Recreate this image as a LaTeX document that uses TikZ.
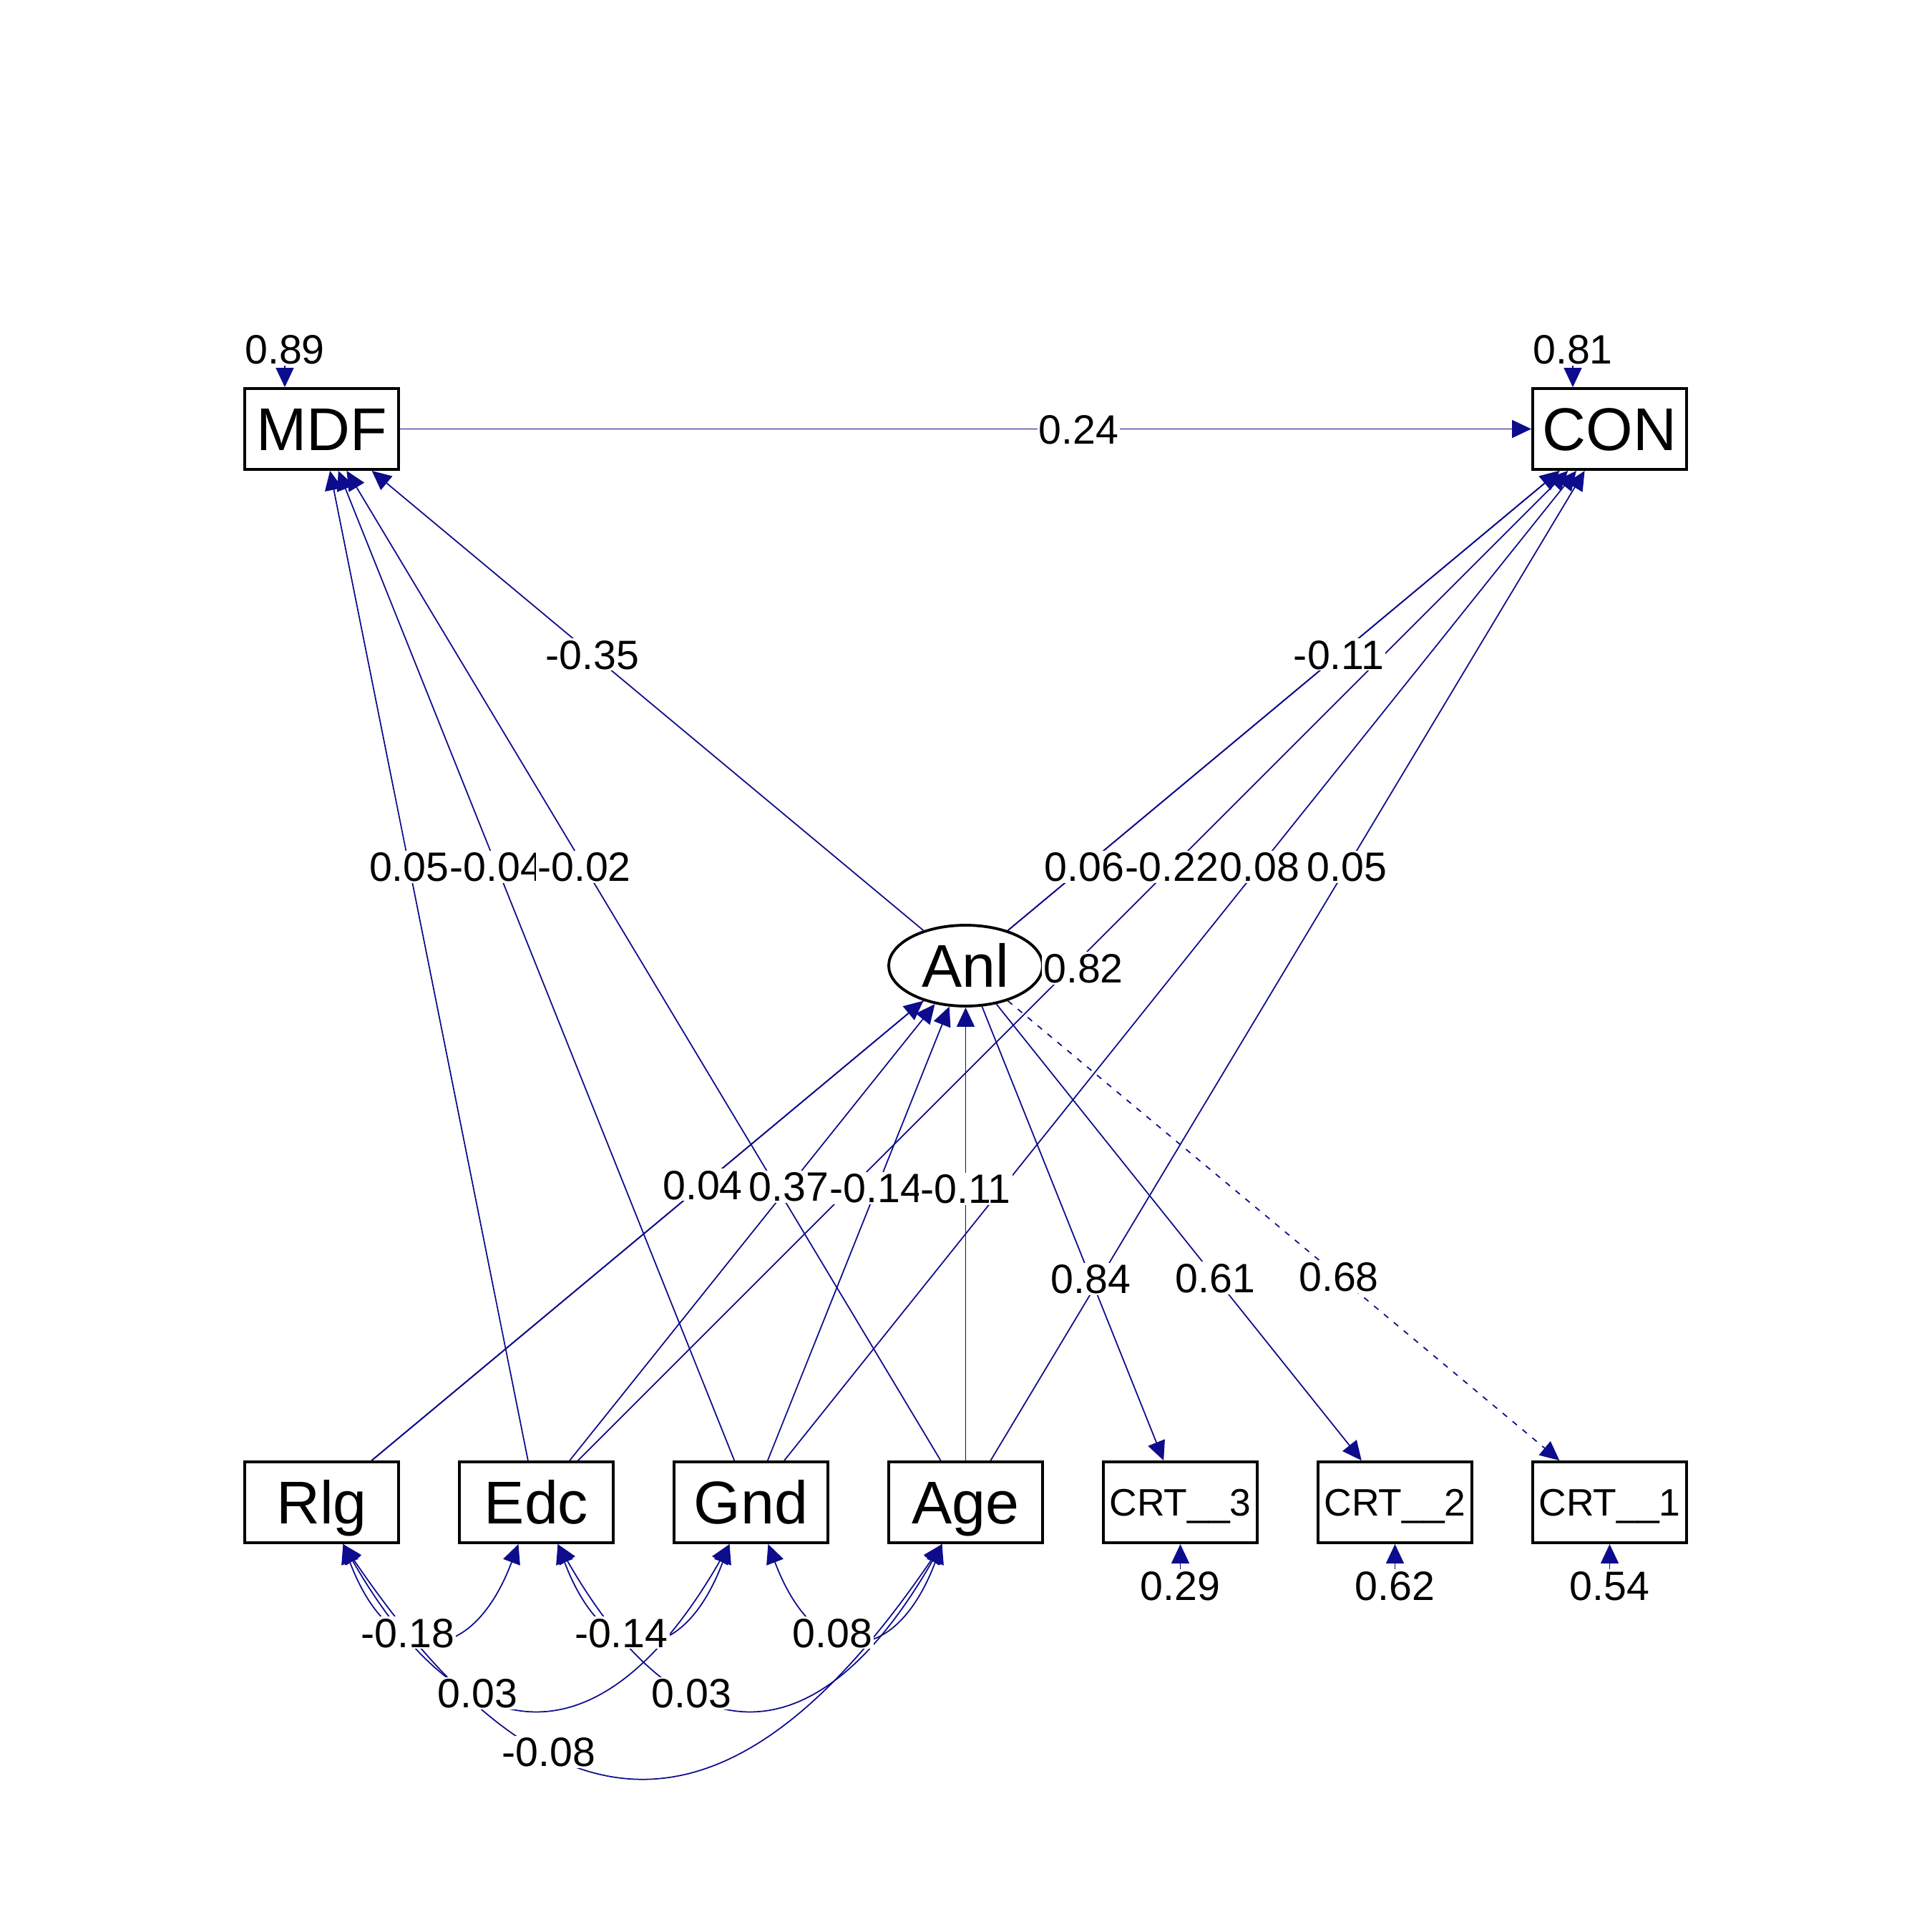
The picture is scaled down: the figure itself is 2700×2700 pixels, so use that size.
\documentclass[tikz,border=0pt]{standalone}
\usepackage{fontspec}
\setmainfont{Liberation Sans}
\usetikzlibrary{arrows.meta,shapes.geometric,calc}
\pgfdeclarelayer{edgelayer}
\pgfsetlayers{edgelayer,main}
\definecolor{edgeblue}{RGB}{12,12,140}
\begin{document}
\begin{tikzpicture}[x=0.1mm,y=-0.1mm,
  box/.style={draw, line width=1.1pt, fill=white, rectangle,
    minimum width=21.5mm, minimum height=11.3mm, inner sep=0pt,
    font=\fontsize{24}{28}\selectfont, text height=17.2pt, text depth=0pt},
  crtbox/.style={box, font=\fontsize{15.2}{18}\selectfont, text height=10.9pt},
  latent/.style={draw, line width=1.1pt, fill=white, ellipse,
    minimum width=21.5mm, minimum height=11.3mm, inner sep=0pt,
    font=\fontsize{24}{28}\selectfont, text height=17.2pt, text depth=0pt},
  tip/.tip={Triangle[length=2.7mm,width=2.5mm]},
  edge/.style={draw=edgeblue, line width=0.5pt, -tip},
  cov/.style={draw=edgeblue, line width=0.5pt, tip-tip},
  dashedge/.style={edge, dash pattern=on 0.8mm off 1mm},
  lbl/.style={fill=white, inner sep=0.2mm, font=\fontsize{16.3}{19}\selectfont,
    text height=11.7pt, text depth=0pt}
]
\useasboundingbox (0,0) rectangle (2700,2700);

% nodes
\node[box] (MDF) at (449.5,599.5) {MDF};
\node[box] (CON) at (2249.5,599.5) {CON};
\node[latent] (Anl) at (1349.5,1349.5) {Anl};
\node[box] (Rlg) at (449.5,2099.5) {Rlg};
\node[box] (Edc) at (749.5,2099.5) {Edc};
\node[box] (Gnd) at (1049.5,2099.5) {Gnd};
\node[box] (Age) at (1349.5,2099.5) {Age};
\node[crtbox] (CRT3) at (1649.5,2099.5) {CRT\_\_3};
\node[crtbox] (CRT2) at (1949.5,2099.5) {CRT\_\_2};
\node[crtbox] (CRT1) at (2249.5,2099.5) {CRT\_\_1};

% residual start points
\coordinate (sMDF) at ($(MDF.north)+(-51.5,-36)$);
\coordinate (sCON) at ($(CON.north)+(-51.5,-36)$);
\coordinate (sC3) at ($(CRT3.south)+(0,36)$);
\coordinate (sC2) at ($(CRT2.south)+(0,36)$);
\coordinate (sC1) at ($(CRT1.south)+(0,36)$);

\begin{pgfonlayer}{edgelayer}
% regressions
\draw[edge] (MDF) -- (CON) coordinate[pos=0.6] (pA);
\draw[edge] (Anl) -- (MDF) coordinate[pos=0.6] (pB);
\draw[edge] (Anl) -- (CON) coordinate[pos=0.6] (pC);
\draw[edge] (Edc) -- (MDF) coordinate[pos=0.6] (pD);
\draw[edge] (Gnd) -- (MDF) coordinate[pos=0.6] (pE);
\draw[edge] (Age) -- (MDF) coordinate[pos=0.6] (pF);
\draw[edge] (Rlg) -- (CON) coordinate[pos=0.6] (pG);
\draw[edge] (Edc) -- (CON) coordinate[pos=0.6] (pH);
\draw[edge] (Gnd) -- (CON) coordinate[pos=0.6] (pI);
\draw[edge] (Age) -- (CON) coordinate[pos=0.6] (pJ);
\draw[edge] (Rlg) -- (Anl) coordinate[pos=0.6] (pK);
\draw[edge] (Edc) -- (Anl) coordinate[pos=0.6] (pL);
\draw[edge] (Gnd) -- (Anl) coordinate[pos=0.6] (pM);
\draw[edge] (Age) -- (Anl) coordinate[pos=0.6] (pN);
% loadings
\draw[edge] (Anl) -- (CRT3) coordinate[pos=0.6] (pO);
\draw[edge] (Anl) -- (CRT2) coordinate[pos=0.6] (pP);
\draw[dashedge] (Anl) -- (CRT1) coordinate[pos=0.6] (pQ);
% residuals
\draw[edge] (sMDF) -- ($(MDF.north)+(-51.5,0)$);
\draw[edge] (sCON) -- ($(CON.north)+(-51.5,0)$);
\draw[edge] (sC3) -- (CRT3.south);
\draw[edge] (sC2) -- (CRT2.south);
\draw[edge] (sC1) -- (CRT1.south);
% covariances
\draw[cov] ($(Rlg.south)+(30,0)$) .. controls +(66,175) and +(-66,175) .. ($(Edc.south)+(-25,0)$) coordinate[pos=0.38] (c1);
\draw[cov] ($(Edc.south)+(30,0)$) .. controls +(66,175) and +(-66,175) .. ($(Gnd.south)+(-30,0)$) coordinate[pos=0.38] (c2);
\draw[cov] ($(Gnd.south)+(24,0)$) .. controls +(66,175) and +(-66,175) .. ($(Age.south)+(-33,0)$) coordinate[pos=0.38] (c3);
\draw[cov] ($(Rlg.south)+(30,0)$) .. controls +(175,305) and +(-175,305) .. ($(Gnd.south)+(-30,0)$) coordinate[pos=0.35] (c4);
\draw[cov] ($(Edc.south)+(30,0)$) .. controls +(175,305) and +(-175,305) .. ($(Age.south)+(-33,0)$) coordinate[pos=0.35] (c5);
\draw[cov] ($(Rlg.south)+(30,0)$) .. controls +(293,431) and +(-293,431) .. ($(Age.south)+(-33,0)$) coordinate[pos=0.34] (c6);
\end{pgfonlayer}

% edge labels
\node[lbl] (lA) at (pA) {0.24};
\node[lbl] (lB) at (pB) {-0.35};
\node[lbl] (lC) at (pC) {-0.11};
\node[lbl] (lD) at (pD) {0.05};
\node[lbl] (lE) at (pE) {-0.04};
\node[lbl] (lF) at (pF) {-0.02};
\node[lbl] (lG) at (pG) {0.06};
\node[lbl] (lH) at (pH) {-0.22};
\node[lbl] (lI) at (pI) {0.08};
\node[lbl] (lJ) at (pJ) {0.05};
\node[lbl] (lK) at (pK) {0.04};
\node[lbl] (lL) at (pL) {0.37};
\node[lbl] (lM) at (pM) {-0.14};
\node[lbl] (lN) at (pN) {-0.11};
\node[lbl] (lO) at (pO) {0.84};
\node[lbl] (lP) at (pP) {0.61};
\node[lbl] (lQ) at (pQ) {0.68};
\node[lbl] (lc1) at (c1) {-0.18};
\node[lbl] (lc2) at (c2) {-0.14};
\node[lbl] (lc3) at (c3) {0.08};
\node[lbl] (lc4) at (c4) {0.03};
\node[lbl] (lc5) at (c5) {0.03};
\node[lbl] (lc6) at (c6) {-0.08};

% residual labels
\node[lbl] (rMDF) at (398,488) {0.89};
\node[lbl] (rCON) at (2198,488) {0.81};
\node[lbl] (rAnl) at (1514,1353) {0.82};
\node[lbl] (rC3) at (1649.5,2216) {0.29};
\node[lbl] (rC2) at (1949.5,2216) {0.62};
\node[lbl] (rC1) at (2249.5,2216) {0.54};
\end{tikzpicture}
\end{document}
